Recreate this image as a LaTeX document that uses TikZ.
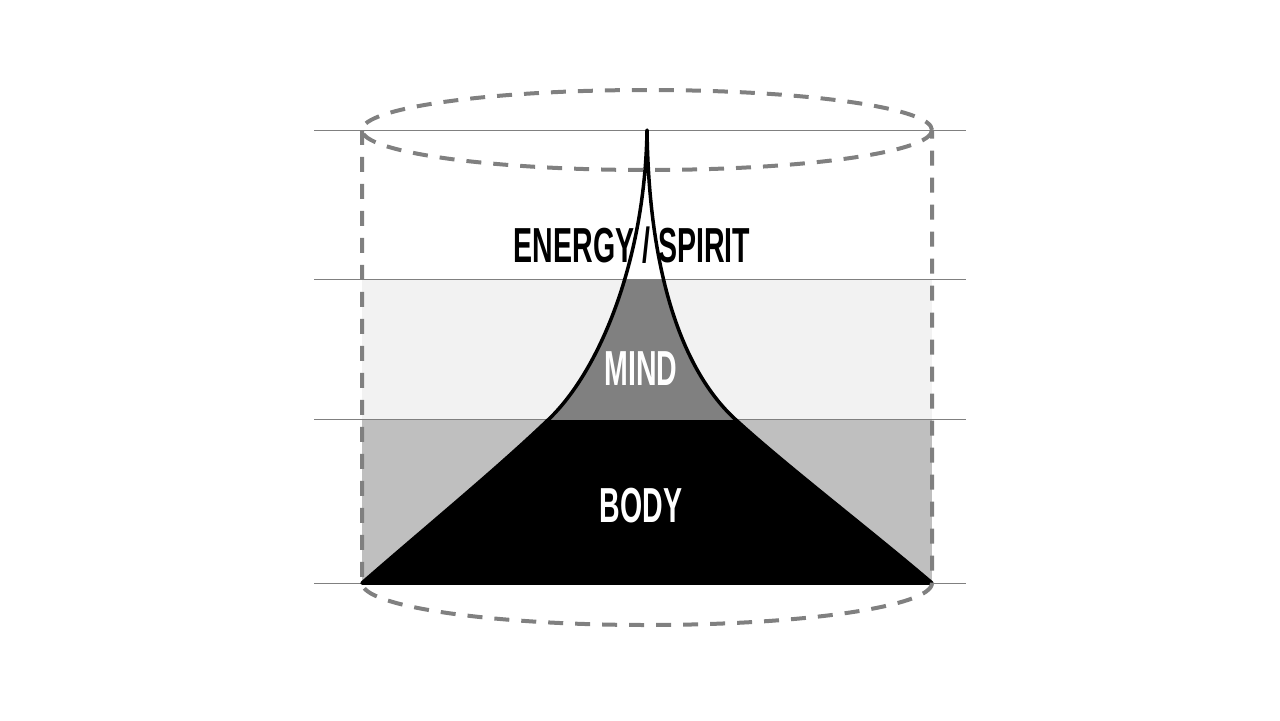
\documentclass[tikz,border=0pt]{standalone}
\usepackage{fontspec}
\usepackage{tikz}
\newfontfamily\peakfont{Liberation Sans}[FakeStretch=0.58]
\definecolor{rimgray}{HTML}{808080}
\definecolor{bandlight}{HTML}{F2F2F2}
\definecolor{bandmid}{HTML}{BFBFBF}
\definecolor{mindgray}{HTML}{808080}
\tikzset{
  rim/.style={draw=rimgray,line width=0.08cm,dash pattern=on 0.3cm off 0.24cm},
  guide/.style={draw=rimgray,line width=0.02cm},
  peakline/.style={draw=black,line width=0.07cm,line join=round},
  lbl/.style={font=\peakfont\bfseries\fontsize{28}{30}\selectfont,anchor=base,inner sep=0pt},
}

\begin{document}
\begin{tikzpicture}[x=0.02cm,y=-0.02cm]
  \useasboundingbox (0,0) rectangle (1280,720);
  % bands inside the cylinder
  \fill[bandlight] (362,279) rectangle (932,419);
  \fill[bandmid] (362,419) rectangle (932,583);
  % the peak
  \path[save path=\peakpath] (362,583) .. controls (425,528) and (498,468) .. (549,419)
    .. controls (600,370) and (645,260) .. (647,130)
    .. controls (649,280) and (685,373) .. (735,419)
    .. controls (785,465) and (870,530) .. (932,583) -- cycle;
  \begin{scope}
    \clip[use path=\peakpath];
    \fill[mindgray] (362,279) rectangle (932,419);
    \fill[black] (362,419) rectangle (932,584);
  \end{scope}
  \foreach \y in {130,279,419,583}
    \draw[guide] (314,\y) -- (966,\y);
  \draw[peakline,use path=\peakpath];
  \node[lbl,black] (energy) at (632,262) {ENERGY / SPIRIT};
  \node[lbl,white] (mind) at (641,385) {MIND};
  \node[lbl,white] (body) at (641,522) {BODY};
  % cylinder
  \draw[rim] (647,130) ellipse [x radius=285,y radius=40];
  \draw[rim] (362,130) -- (362,583) arc[start angle=180,end angle=0,x radius=285,y radius=42] -- (932,130);
\end{tikzpicture}
\end{document}
